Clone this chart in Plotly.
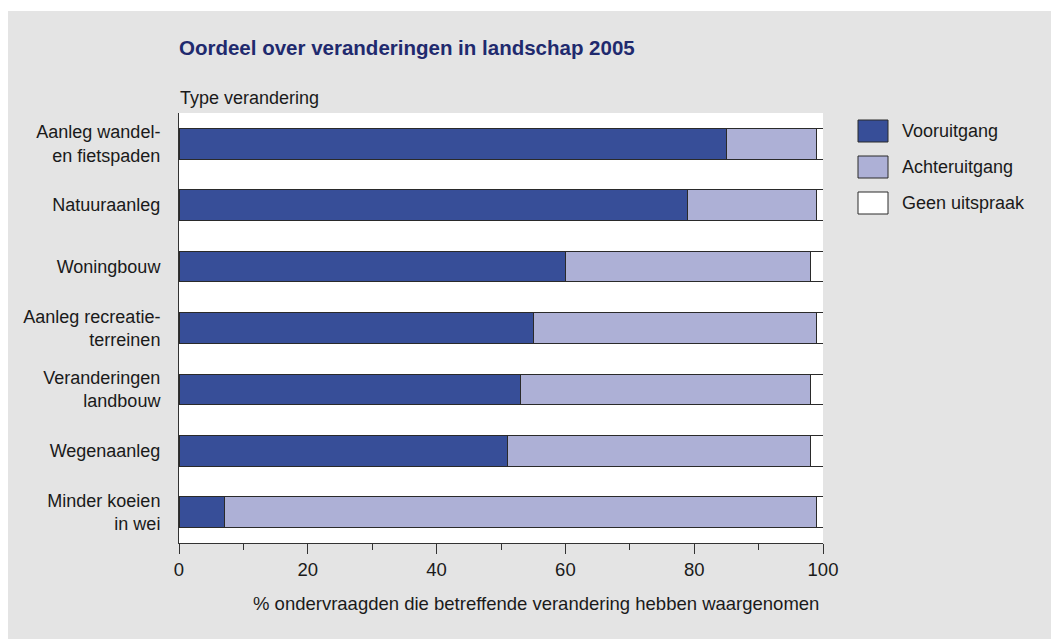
import plotly.graph_objects as go

categories = ["Aanleg wandel-<br>en fietspaden", "Natuuraanleg", "Woningbouw",
              "Aanleg recreatie-<br>terreinen", "Veranderingen<br>landbouw",
              "Wegenaanleg", "Minder koeien<br>in wei"]
series_names = ["Vooruitgang", "Achteruitgang", "Geen uitspraak"]
vooruitgang = [85, 79, 60, 55, 53, 51, 7]
achteruitgang = [14, 20, 38, 44, 45, 47, 92]
geen_uitspraak = [1, 1, 2, 1, 2, 2, 1]
x_ticks = [0, 20, 40, 60, 80, 100]

colors = ["#374e98", "#adb0d6", "#ffffff"]
outline = "#2a2a2a"
FONT = "Liberation Sans Narrow, Liberation Sans, Arial, sans-serif"
OFF = 8  # default page body margin
W, H = 1059 - OFF, 639 - OFF
L, R, T, B = 179 - OFF, 236, 113 - OFF, 96
PW, PH = W - L - R, H - T - B

def px(x):
    # x in screenshot pixels -> paper coordinate
    return (x - OFF - L) / PW

def py(y):
    return (H - B - (y - OFF)) / PH

fig = go.Figure()
for name, vals, col in zip(series_names, [vooruitgang, achteruitgang, geen_uitspraak], colors):
    fig.add_trace(go.Bar(
        y=categories, x=vals, name=name, orientation="h",
        marker=dict(color=col, line=dict(color=outline, width=1)),
        showlegend=False,
    ))

shapes = [
    # white outer strip at top
    dict(type="rect", xref="paper", yref="paper", x0=px(OFF), x1=px(1059), y0=py(11), y1=py(OFF),
         fillcolor="white", line_width=0, layer="below"),
]
annotations = []
leg_top, leg_step, box_h = 120, 36, 22
for i, (name, col) in enumerate(zip(series_names, colors)):
    y0 = leg_top + i * leg_step
    shapes.append(dict(type="rect", xref="paper", yref="paper",
                       x0=px(858), x1=px(888), y0=py(y0 + box_h), y1=py(y0),
                       fillcolor=col, line=dict(color=outline, width=1)))
    annotations.append(dict(text=name, xref="paper", yref="paper", x=px(900), y=py(y0 + box_h / 2),
                            xanchor="left", yanchor="middle", showarrow=False,
                            font=dict(family=FONT, size=18, color="#1a1a1a")))

annotations.append(dict(text="Type verandering", xref="paper", yref="paper", x=px(178), y=py(98),
                        xanchor="left", yanchor="middle", showarrow=False,
                        font=dict(family=FONT, size=18, color="#1a1a1a")))
annotations.append(dict(text="% ondervraagden die betreffende verandering hebben waargenomen",
                        xref="paper", yref="paper", x=px(821), y=py(603),
                        xanchor="right", yanchor="middle", showarrow=False,
                        font=dict(family=FONT, size=18.5, color="#1a1a1a")))

fig.update_layout(
    width=W, height=H,
    margin=dict(l=L, r=R, t=T, b=B, pad=0),
    paper_bgcolor="#e4e4e4", plot_bgcolor="white",
    barmode="stack", bargap=0.5,
    font=dict(family=FONT, size=18, color="#1a1a1a"),
    title=dict(text="<b>Oordeel over veranderingen in landschap 2005</b>",
               xref="paper", x=0, xanchor="left",
               yref="container", y=1 - (48 - OFF) / H, yanchor="middle",
               font=dict(family=FONT, size=20.5, color="#1f2a6e")),
    shapes=shapes, annotations=annotations,
)
fig.update_xaxes(range=[0, 100], tickvals=x_ticks, ticks="outside", ticklen=10,
                 tickcolor="#333", showline=True, linecolor="#333", linewidth=1,
                 showgrid=False, zeroline=False, fixedrange=True,
                 minor=dict(dtick=10, ticks="outside", ticklen=6, tickcolor="#333", showgrid=False),
                 tickfont=dict(size=18.5))
fig.update_yaxes(autorange="reversed", showline=True, linecolor="#333", linewidth=1,
                 showgrid=False, ticks="", ticklabelstandoff=14, tickfont=dict(size=18))

fig.write_html("out.html")
